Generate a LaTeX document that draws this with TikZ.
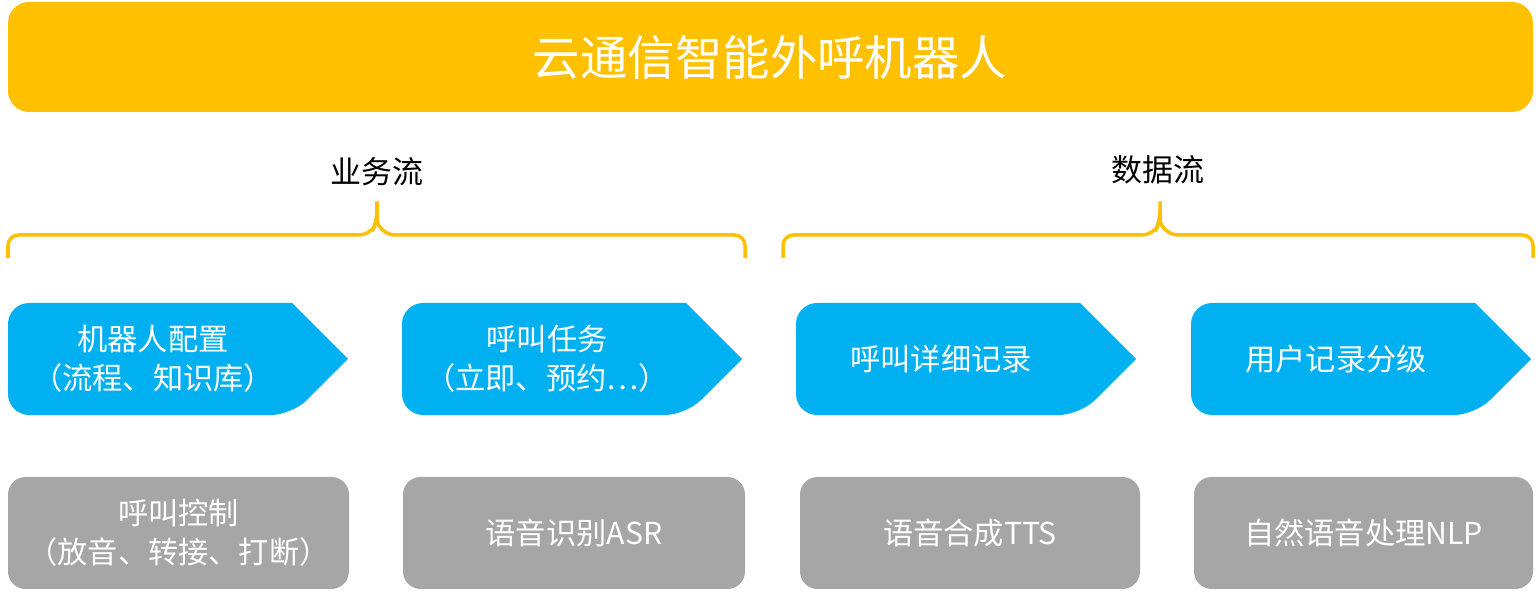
\documentclass[tikz,border=0pt]{standalone}
\usepackage{fontspec}
\setmainfont{Noto Sans CJK SC}
\usetikzlibrary{positioning,calc}
\definecolor{titleyellow}{HTML}{FFC000}
\definecolor{flowblue}{HTML}{00B0F0}
\definecolor{modgray}{HTML}{A6A6A6}

\begin{document}
\begin{tikzpicture}[
    x=0.01cm, y=-0.01cm,
    label/.style={text=white, font=\fontsize{8.6}{11}\selectfont, align=center},
    brace/.style={draw=titleyellow, line width=1pt, rounded corners=3},
    graybox/.style={fill=modgray, rounded corners=5}
]
    \useasboundingbox (0,0) rectangle (1537,592);
    % Title
    \fill[titleyellow, rounded corners=6] (8,2) rectangle (1533,112);
    \node[text=white, font=\fontsize{13.5}{16}\selectfont] (title) at (770,57) {云通信智能外呼机器人};

    % Headings and braces
    \node[font=\fontsize{8.8}{11}\selectfont] (biz) at (377,172) {业务流};
    \node[font=\fontsize{8.8}{11}\selectfont] (data) at (1158,170) {数据流};
    \draw[brace] (8,258) -- (8,235) -- (370,235) -- (377,222) |- (377,212) (377,222) -- (384,235) -- (745,235) -- (745,258);
    \draw[brace] (783,258) -- (783,235) -- (1153,235) -- (1160,222) |- (1160,212) (1160,222) -- (1167,235) -- (1533,235) -- (1533,258);

    % Flow chevrons
    \foreach \x/\name/\txt in {8/cfg/{机器人配置\\（流程、知识库）}, 402/task/{呼叫任务\\（立即、预约…）}, 796/cdr/呼叫详细记录, 1191/grade/用户记录分级} {
        \fill[flowblue, rounded corners=6] (\x+284,303) -- (\x,303) -- (\x,415) -- (\x+284,415) [sharp corners] -- (\x+340,359) -- cycle;
        \node[label] (\name) at (\x+145,359) {\txt};
    }

    % Modules
    \foreach \x/\w/\name/\txt in {8/341/ctrl/{呼叫控制\\（放音、转接、打断）}, 403/342/asr/语音识别ASR, 800/340/tts/语音合成TTS, 1194/339/nlp/自然语音处理NLP} {
        \fill[graybox] (\x,477) rectangle (\x+\w,589);
        \node[label] (\name) at (\x+\w/2,533) {\txt};
    }
\end{tikzpicture}
\end{document}
